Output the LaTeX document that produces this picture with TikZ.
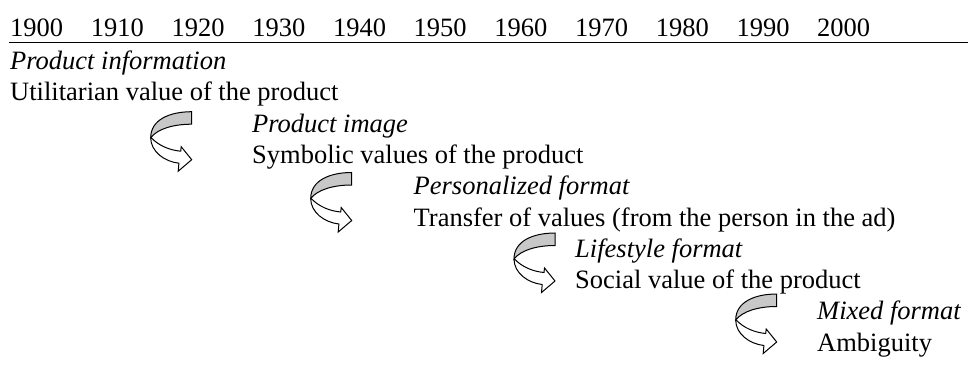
\documentclass[tikz,border=0pt]{standalone}
\usepackage{fontspec}
\setmainfont{Liberation Serif}
\definecolor{bandgray}{RGB}{200,200,200}
\tikzset{
  txt/.style={anchor=base west, inner sep=0pt, font=\fontsize{26.5}{30}\selectfont},
  ttl/.style={txt, font=\fontsize{26.5}{30}\selectfont\itshape},
  looparrow/.pic={
    \draw[line width=1pt, fill=white, line join=miter]
      (-40.5,26) .. controls (-33,34) and (-22,38.5) .. (-11,39.5)
      -- (-10.5,35) -- (0,48) -- (-13.5,59.5) -- (-12.8,51.5)
      .. controls (-27,50) and (-41,40) .. (-41,26) -- cycle;
    \draw[line width=1pt, fill=bandgray, line join=miter]
      (0,0) .. controls (-22,0) and (-41,8) .. (-41,26)
      .. controls (-34,17) and (-18,12.5) .. (0,12.5) -- cycle;
  }
}
\begin{document}
\begin{tikzpicture}[x=1pt, y=-1pt]
  \fill[white] (0,0) rectangle (968,381);
  \useasboundingbox (0,0) rectangle (968,381);
  % year header
  \foreach \yr [count=\k from 0] in {1900,1910,1920,1930,1940,1950,1960,1970,1980,1990,2000}
    \node[txt] (y\yr) at ({10+80.7*\k},36.5) {\yr};
  \coordinate (rl) at (9,42.5);
  \coordinate (rr) at (968,42.5);
  \draw[line width=1.1pt] (rl) -- (rr);
  % stages
  \node[ttl] (t0) at (10,69.5) {Product information};
  \node[txt] (d0) at (10,100.8) {Utilitarian value of the product};
  \node[ttl] (t1) at (252,132.1) {Product image};
  \node[txt] (d1) at (252,163.4) {Symbolic values of the product};
  \node[ttl] (t2) at (413.5,194.7) {Personalized format};
  \node[txt] (d2) at (413.5,226) {Transfer of values (from the person in the ad)};
  \node[ttl] (t3) at (575,257.3) {Lifestyle format};
  \node[txt] (d3) at (575,288.6) {Social value of the product};
  \node[ttl] (t4) at (817,319.9) {Mixed format};
  \node[txt] (d4) at (817,351.2) {Ambiguity};
  % curved arrows
  \pic at (191.7,111.7) {looparrow};
  \pic at (351.7,172.5) {looparrow};
  \pic at (555,233) {looparrow};
  \pic at (776.7,294) {looparrow};
\end{tikzpicture}
\end{document}
